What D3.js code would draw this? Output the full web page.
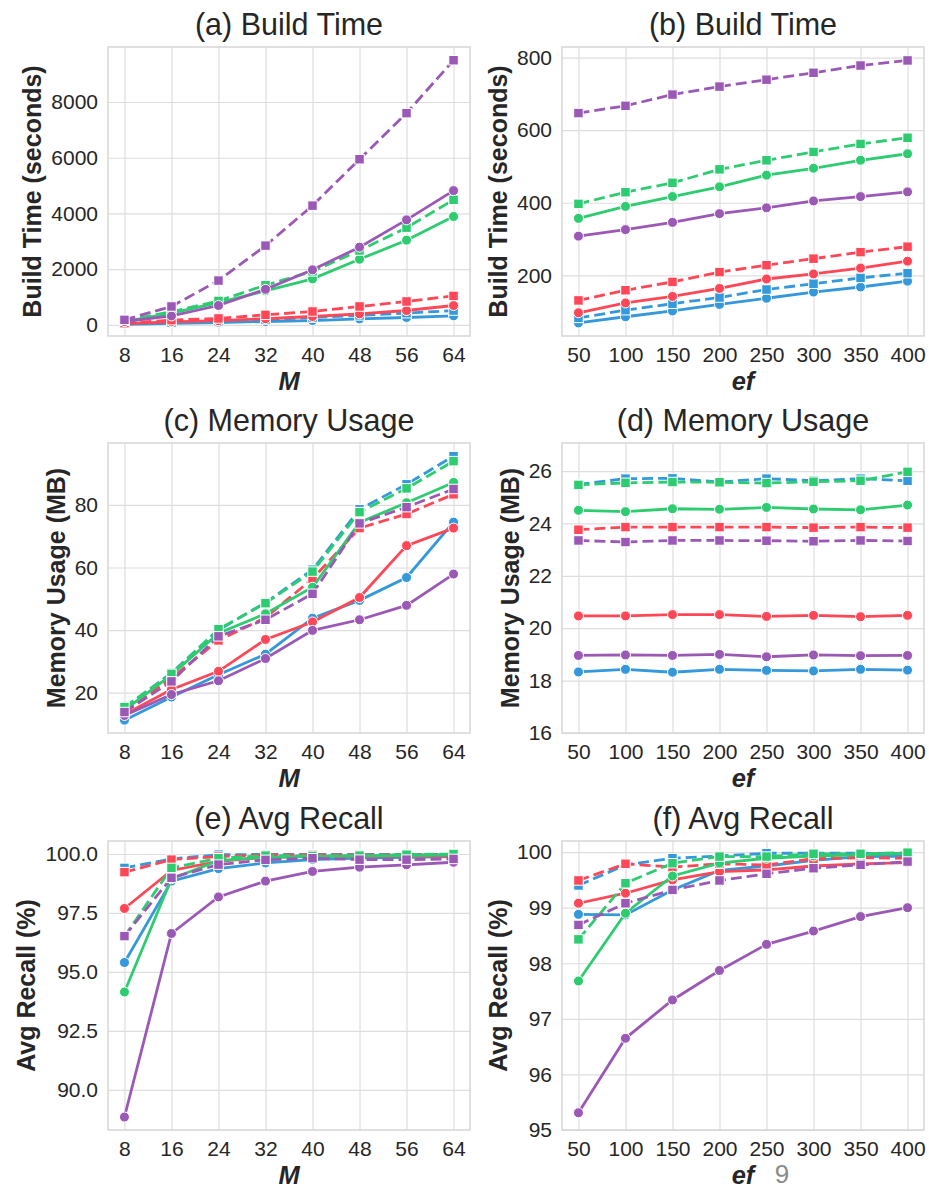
<!DOCTYPE html>
<html>
<head>
<meta charset="utf-8">
<script src="https://cdn.jsdelivr.net/npm/d3@7"></script>
<style>
  body { margin: 0; background: #fff; }
  svg { display: block; font-family: "Liberation Sans", Arial, sans-serif; }
</style>
</head>
<body>
<svg id="viz"></svg>
<script>
// --- x values ---
const mValues = [8, 16, 24, 32, 40, 48, 56, 64];
const efValues = [50, 100, 150, 200, 250, 300, 350, 400];

// series order: blue solid, blue dashed, red solid, red dashed,
//               green solid, green dashed, purple solid, purple dashed
const seriesColors = ["#3498db", "#3498db", "#ff4757", "#ff4757", "#2ecc71", "#2ecc71", "#9b59b6", "#9b59b6"];
const seriesDashed = [false, true, false, true, false, true, false, true];

// --- (a) build time vs M ---
const buildTimeByM = [
  [20, 50, 85, 120, 155, 215, 265, 325],
  [40, 80, 130, 190, 260, 340, 420, 515],
  [45, 110, 150, 220, 300, 395, 515, 695],
  [60, 170, 230, 360, 480, 660, 840, 1040],
  [120, 420, 800, 1220, 1650, 2355, 3040, 3890],
  [150, 470, 860, 1425, 1920, 2670, 3490, 4490],
  [120, 320, 695, 1275, 1975, 2790, 3770, 4820],
  [180, 660, 1590, 2845, 4280, 5945, 7600, 9500]
];

// --- (b) build time vs ef ---
const buildTimeByEf = [
  [69, 86, 102, 120, 137, 154, 168, 184],
  [83, 104, 122, 139, 161, 177, 193, 206],
  [97, 124, 142, 164, 190, 204, 220, 239],
  [131, 159, 182, 209, 228, 246, 264, 279],
  [357, 390, 417, 444, 476, 495, 517, 535],
  [397, 429, 455, 492, 517, 540, 562, 579],
  [308, 326, 346, 370, 386, 405, 417, 430],
  [647, 667, 698, 720, 739, 758, 778, 792]
];

// --- (c) memory vs M ---
const memoryByM = [
  [11.2, 18.6, 25.7, 32.3, 43.8, 49.5, 56.8, 74.5],
  [15.1, 26.3, 40.0, 48.8, 59.3, 78.6, 86.6, 95.6],
  [13.0, 21.0, 26.8, 37.0, 42.6, 50.4, 67.0, 72.6],
  [14.0, 24.7, 36.7, 44.0, 56.4, 72.6, 77.1, 83.4],
  [14.4, 25.7, 39.0, 45.2, 53.7, 74.4, 80.7, 87.2],
  [15.4, 26.0, 40.3, 48.6, 58.7, 77.7, 85.3, 94.0],
  [12.7, 19.4, 23.8, 30.9, 39.9, 43.3, 47.9, 57.9],
  [13.8, 23.6, 38.0, 43.3, 51.6, 74.1, 79.3, 85.1]
];

// --- (d) memory vs ef ---
const memoryByEf = [
  [18.33, 18.43, 18.32, 18.43, 18.39, 18.37, 18.43, 18.40],
  [25.49, 25.71, 25.72, 25.58, 25.71, 25.63, 25.71, 25.63],
  [20.47, 20.47, 20.52, 20.52, 20.45, 20.49, 20.44, 20.49],
  [23.76, 23.86, 23.86, 23.86, 23.86, 23.84, 23.86, 23.84],
  [24.50, 24.45, 24.56, 24.54, 24.61, 24.55, 24.52, 24.70],
  [25.47, 25.55, 25.58, 25.57, 25.54, 25.59, 25.63, 25.97],
  [18.96, 18.98, 18.96, 19.00, 18.91, 18.98, 18.95, 18.96],
  [23.35, 23.29, 23.35, 23.35, 23.34, 23.32, 23.35, 23.33]
];

// --- (e) recall vs M ---
const recallByM = [
  [95.40, 98.85, 99.38, 99.62, 99.76, 99.82, 99.86, 99.89],
  [99.41, 99.79, 99.97, 99.98, 99.98, 99.98, 99.98, 99.98],
  [97.69, 99.30, 99.69, 99.86, 99.90, 99.90, 99.91, 99.91],
  [99.23, 99.76, 99.89, 99.96, 99.96, 99.96, 99.96, 99.96],
  [94.15, 98.95, 99.72, 99.86, 99.89, 99.92, 99.93, 99.96],
  [96.50, 99.41, 99.82, 99.93, 99.92, 99.93, 99.97, 100.0],
  [88.85, 96.63, 98.18, 98.85, 99.26, 99.44, 99.54, 99.65],
  [96.52, 98.99, 99.55, 99.75, 99.82, 99.76, 99.76, 99.79]
];

// --- (f) recall vs ef ---
const recallByEf = [
  [98.88, 98.87, 99.32, 99.67, 99.75, 99.85, 99.92, 99.93],
  [99.40, 99.77, 99.89, 99.93, 99.98, 99.98, 99.98, 99.97],
  [99.08, 99.26, 99.50, 99.65, 99.68, 99.75, 99.79, 99.81],
  [99.49, 99.79, 99.73, 99.79, 99.77, 99.88, 99.90, 99.89],
  [97.68, 98.90, 99.57, 99.80, 99.89, 99.93, 99.95, 99.98],
  [98.43, 99.44, 99.80, 99.92, 99.92, 99.97, 99.97, 99.99],
  [95.31, 96.65, 97.34, 97.87, 98.34, 98.58, 98.84, 99.00],
  [98.69, 99.08, 99.32, 99.49, 99.61, 99.71, 99.77, 99.83]
];

const width = 929;
const height = 1190;

const colLeft = [108, 562];
const colRight = [470, 924];
const rowTop = [47, 443, 841];
const rowBottom = [336, 733, 1130];

const panels = [
  { title: "(a) Build Time", xs: mValues, xLabel: "M", yLabel: "Build Time (seconds)", data: buildTimeByM,
    yDomain: [-400, 9975], yTicks: [0, 2000, 4000, 6000, 8000], fmt: d3.format("d"), col: 0, row: 0 },
  { title: "(b) Build Time", xs: efValues, xLabel: "ef", yLabel: "Build Time (seconds)", data: buildTimeByEf,
    yDomain: [33, 829], yTicks: [200, 400, 600, 800], fmt: d3.format("d"), col: 1, row: 0 },
  { title: "(c) Memory Usage", xs: mValues, xLabel: "M", yLabel: "Memory Usage (MB)", data: memoryByM,
    yDomain: [7.1, 99.8], yTicks: [20, 40, 60, 80], fmt: d3.format("d"), col: 0, row: 1 },
  { title: "(d) Memory Usage", xs: efValues, xLabel: "ef", yLabel: "Memory Usage (MB)", data: memoryByEf,
    yDomain: [16, 27.07], yTicks: [16, 18, 20, 22, 24, 26], fmt: d3.format("d"), col: 1, row: 1 },
  { title: "(e) Avg Recall", xs: mValues, xLabel: "M", yLabel: "Avg Recall (%)", data: recallByM,
    yDomain: [88.3, 100.55], yTicks: [90, 92.5, 95, 97.5, 100], fmt: d3.format(".1f"), col: 0, row: 2 },
  { title: "(f) Avg Recall", xs: efValues, xLabel: "ef", yLabel: "Avg Recall (%)", data: recallByEf,
    yDomain: [95, 100.2], yTicks: [95, 96, 97, 98, 99, 100], fmt: d3.format("d"), col: 1, row: 2 }
];

const svg = d3.select("#viz")
  .attr("width", width)
  .attr("height", height);

svg.append("rect")
  .attr("width", width)
  .attr("height", height)
  .attr("fill", "white");

const textColor = "#262626";

panels.forEach(p => {
  const left = colLeft[p.col], right = colRight[p.col];
  const top = rowTop[p.row], bottom = rowBottom[p.row];
  const w = right - left, h = bottom - top;

  const xMin = d3.min(p.xs), xMax = d3.max(p.xs);
  const pad = (xMax - xMin) * 0.05;
  const x = d3.scaleLinear().domain([xMin - pad, xMax + pad]).range([left, right]);
  const y = d3.scaleLinear().domain(p.yDomain).range([bottom, top]);

  const g = svg.append("g");

  // --- grid ---
  g.append("g")
    .attr("transform", `translate(0,${bottom})`)
    .call(d3.axisBottom(x).tickValues(p.xs).tickSize(-h).tickFormat(""))
    .call(a => a.select(".domain").remove())
    .call(a => a.selectAll("line").attr("stroke", "#dedede").attr("stroke-width", 1.2));

  g.append("g")
    .attr("transform", `translate(${left},0)`)
    .call(d3.axisLeft(y).tickValues(p.yTicks).tickSize(-w).tickFormat(""))
    .call(a => a.select(".domain").remove())
    .call(a => a.selectAll("line").attr("stroke", "#dedede").attr("stroke-width", 1.2));

  // --- frame ---
  g.append("rect")
    .attr("x", left).attr("y", top)
    .attr("width", w).attr("height", h)
    .attr("fill", "none")
    .attr("stroke", "#d6d6d6")
    .attr("stroke-width", 1.5);

  // --- tick labels ---
  g.append("g")
    .attr("transform", `translate(0,${bottom})`)
    .call(d3.axisBottom(x).tickValues(p.xs).tickSize(0).tickPadding(11).tickFormat(d3.format("d")))
    .call(a => a.select(".domain").remove())
    .call(a => a.selectAll("text")
      .attr("font-size", 21).attr("fill", textColor)
      .attr("font-family", "Liberation Sans, Arial, sans-serif"));

  const yAxis = g.append("g")
    .attr("transform", `translate(${left},0)`)
    .call(d3.axisLeft(y).tickValues(p.yTicks).tickSize(0).tickPadding(10).tickFormat(p.fmt))
    .call(a => a.select(".domain").remove())
    .call(a => a.selectAll("text")
      .attr("font-size", 21).attr("fill", textColor)
      .attr("font-family", "Liberation Sans, Arial, sans-serif"));

  let maxW = 0;
  yAxis.selectAll("text").each(function () {
    maxW = Math.max(maxW, this.getComputedTextLength());
  });

  // --- labels ---
  const labelX = left - 10 - maxW - 10;
  g.append("text")
    .attr("transform", `translate(${labelX},${(top + bottom) / 2}) rotate(-90)`)
    .attr("text-anchor", "middle")
    .attr("font-size", 25)
    .attr("font-weight", "bold")
    .attr("fill", textColor)
    .text(p.yLabel);

  g.append("text")
    .attr("x", (left + right) / 2)
    .attr("y", bottom + 54)
    .attr("text-anchor", "middle")
    .attr("font-size", 25.5)
    .attr("font-weight", "bold")
    .attr("font-style", "italic")
    .attr("fill", textColor)
    .text(p.xLabel);

  g.append("text")
    .attr("x", (left + right) / 2)
    .attr("y", top - 12)
    .attr("text-anchor", "middle")
    .attr("font-size", 30.5)
    .attr("fill", textColor)
    .text(p.title);

  // --- series ---
  const line = d3.line()
    .x((d, i) => x(p.xs[i]))
    .y(d => y(d));

  p.data.forEach((vals, si) => {
    const color = seriesColors[si];
    const dashed = seriesDashed[si];

    g.append("path")
      .datum(vals)
      .attr("d", line)
      .attr("fill", "none")
      .attr("stroke", color)
      .attr("stroke-width", 2.8)
      .attr("stroke-dasharray", dashed ? "11,5" : null);

    if (dashed) {
      const s = 9.5;
      g.append("g").selectAll("rect")
        .data(vals)
        .join("rect")
        .attr("x", (d, i) => x(p.xs[i]) - s / 2)
        .attr("y", d => y(d) - s / 2)
        .attr("width", s)
        .attr("height", s)
        .attr("fill", color)
        .attr("stroke", "white")
        .attr("stroke-width", 1);
    } else {
      g.append("g").selectAll("circle")
        .data(vals)
        .join("circle")
        .attr("cx", (d, i) => x(p.xs[i]))
        .attr("cy", d => y(d))
        .attr("r", 5)
        .attr("fill", color)
        .attr("stroke", "white")
        .attr("stroke-width", 1);
    }
  });
});

// page number (sits at the bottom edge in the original)
svg.append("text")
  .attr("x", 782)
  .attr("y", 1183)
  .attr("text-anchor", "middle")
  .attr("font-size", 26)
  .attr("fill", "#8a8a8a")
  .text("9");
</script>
</body>
</html>
